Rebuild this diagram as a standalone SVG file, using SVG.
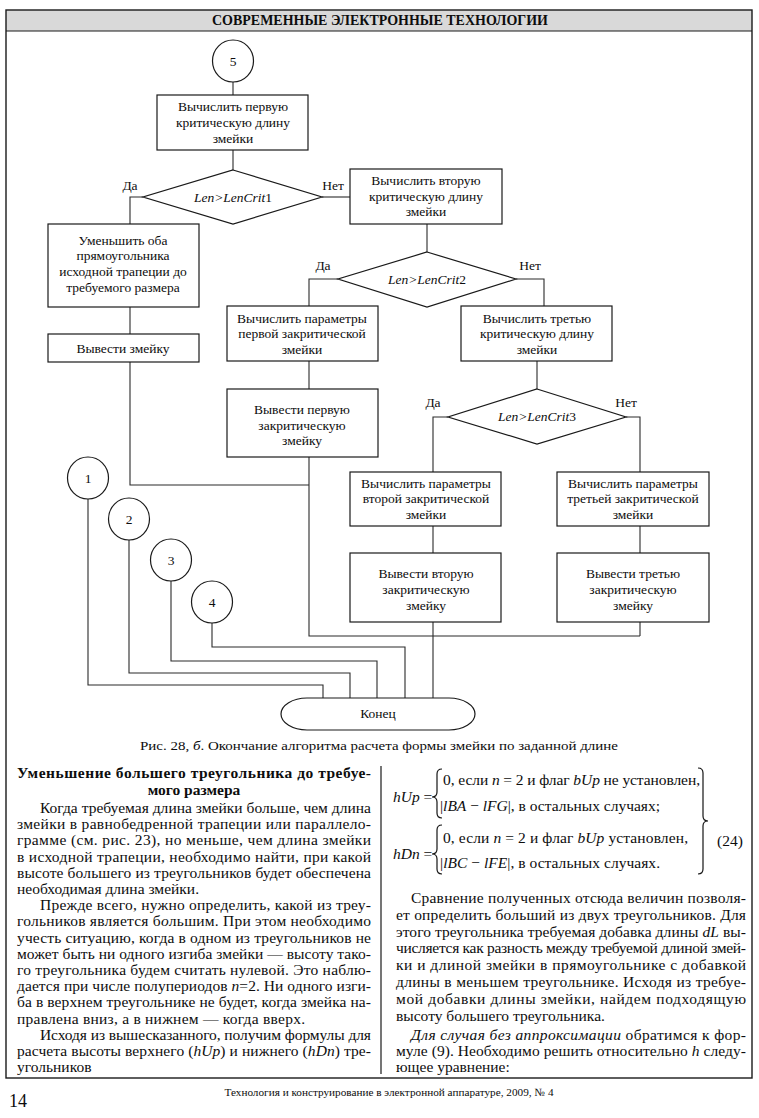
<svg xmlns="http://www.w3.org/2000/svg" width="759" height="1118" viewBox="0 0 759 1118" font-family="'Liberation Serif','Times New Roman','DejaVu Serif',serif">
<style>
text{font-family:"Liberation Serif","Times New Roman","DejaVu Serif",serif;fill:#0d0d0d}
.fc text{font-size:13.5px;text-anchor:middle}
.box{fill:#fff;stroke:#1a1a1a;stroke-width:1.2}
.ln{fill:none;stroke:#2a2a2a;stroke-width:1.1}
.body{font-size:15.5px}
.it{font-style:italic}
.b{font-weight:bold}
.br{fill:none;stroke:#141414;stroke-width:1.2}
</style>
<rect x="0" y="0" width="759" height="1118" fill="#fff"/>
<rect x="6" y="10" width="746" height="21" fill="#d9d9d9"/>
<rect x="6" y="10" width="746" height="1068" fill="none" stroke="#1a1a1a" stroke-width="1.4"/>
<line x1="6" y1="31" x2="752" y2="31" stroke="#1a1a1a" stroke-width="1.2"/>
<text x="380" y="25" font-size="14" font-weight="bold" text-anchor="middle" textLength="336" lengthAdjust="spacingAndGlyphs">СОВРЕМЕННЫЕ ЭЛЕКТРОННЫЕ ТЕХНОЛОГИИ</text>

<g id="connectors" class="ln">
<path d="M233,82V95"/>
<path d="M233,150V170"/>
<path d="M143,197H130V224"/>
<path d="M322,197H350"/>
<path d="M130,307V334"/>
<path d="M130,362V485H309"/>
<path d="M427,224V252"/>
<path d="M338,279H309V306"/>
<path d="M516,279H544V306"/>
<path d="M309,361V389"/>
<path d="M309,457V636H640"/>
<path d="M537,361V389"/>
<path d="M448,417H433V472"/>
<path d="M626,417H640V472"/>
<path d="M433,526V553"/>
<path d="M433,622V698"/>
<path d="M640,526V553"/>
<path d="M640,622V636"/>
<path d="M88,499V685H323V698"/>
<path d="M129,540V673H350V698"/>
<path d="M171,581V661H377V698"/>
<path d="M212,623V647H405V698"/>
</g>

<g class="fc">
<g id="c5"><ellipse class="box" cx="233" cy="61" rx="20.5" ry="21"/><text x="233" y="66">5</text></g>
<g id="n1"><rect class="box" x="157" y="95" width="151" height="55"/>
<text x="233" y="111">Вычислить первую</text><text x="233" y="127">критическую длину</text><text x="233" y="143">змейки</text></g>
<g id="d1"><polygon class="box" points="233,170 322,197 233,224 143,197"/>
<text x="233" y="202" class="it">Len&gt;LenCrit<tspan font-style="normal">1</tspan></text></g>
<g id="l1"><text x="130" y="190">Да</text><text x="333" y="190">Нет</text></g>
<g id="n2"><rect class="box" x="48" y="224" width="151" height="83"/>
<text x="123" y="245">Уменьшить оба</text><text x="123" y="260">прямоугольника</text><text x="123" y="276">исходной трапеции до</text><text x="123" y="292">требуемого размера</text></g>
<g id="n4"><rect class="box" x="48" y="334" width="151" height="28"/>
<text x="123" y="353">Вывести змейку</text></g>
<g id="n3"><rect class="box" x="350" y="169" width="152" height="55"/>
<text x="426" y="185">Вычислить вторую</text><text x="426" y="201">критическую длину</text><text x="426" y="216">змейки</text></g>
<g id="d2"><polygon class="box" points="427,252 516,279 427,307 338,279"/>
<text x="427" y="284" class="it">Len&gt;LenCrit<tspan font-style="normal">2</tspan></text></g>
<g id="l2"><text x="323" y="270">Да</text><text x="530" y="270">Нет</text></g>
<g id="n5"><rect class="box" x="227" y="306" width="151" height="55"/>
<text x="302" y="323">Вычислить параметры</text><text x="302" y="338">первой закритической</text><text x="302" y="354">змейки</text></g>
<g id="n6"><rect class="box" x="227" y="389" width="151" height="68"/>
<text x="302" y="414">Вывести первую</text><text x="302" y="430">закритическую</text><text x="302" y="445">змейку</text></g>
<g id="n7"><rect class="box" x="461" y="306" width="151" height="55"/>
<text x="537" y="323">Вычислить третью</text><text x="537" y="338">критическую длину</text><text x="537" y="354">змейки</text></g>
<g id="d3"><polygon class="box" points="537,389 626,417 537,444 448,417"/>
<text x="537" y="421" class="it">Len&gt;LenCrit<tspan font-style="normal">3</tspan></text></g>
<g id="l3"><text x="433" y="407">Да</text><text x="626" y="407">Нет</text></g>
<g id="n8"><rect class="box" x="350" y="472" width="151" height="54"/>
<text x="426" y="488">Вычислить параметры</text><text x="426" y="503">второй закритической</text><text x="426" y="519">змейки</text></g>
<g id="n9"><rect class="box" x="350" y="553" width="151" height="69"/>
<text x="426" y="578">Вывести вторую</text><text x="426" y="594">закритическую</text><text x="426" y="610">змейку</text></g>
<g id="n10"><rect class="box" x="557" y="472" width="152" height="54"/>
<text x="633" y="488">Вычислить параметры</text><text x="633" y="503">третьей закритической</text><text x="633" y="519">змейки</text></g>
<g id="n11"><rect class="box" x="557" y="553" width="152" height="69"/>
<text x="633" y="578">Вывести третью</text><text x="633" y="594">закритическую</text><text x="633" y="610">змейку</text></g>
<g id="c1"><ellipse class="box" cx="88" cy="478" rx="20.5" ry="21"/><text x="88" y="483">1</text></g>
<g id="c2"><ellipse class="box" cx="129" cy="519" rx="20.5" ry="21"/><text x="129" y="524">2</text></g>
<g id="c3"><ellipse class="box" cx="171" cy="560" rx="20.5" ry="21"/><text x="171" y="565">3</text></g>
<g id="c4"><ellipse class="box" cx="212" cy="602" rx="20.5" ry="21"/><text x="212" y="607">4</text></g>
<g id="end"><rect class="box" x="281" y="698" width="194" height="32" rx="26" ry="16"/>
<text x="378" y="718">Конец</text></g>
</g>

<text x="379" y="750" font-size="13.5" text-anchor="middle" textLength="478" lengthAdjust="spacingAndGlyphs">Рис. 28, <tspan class="it">б</tspan>. Окончание алгоритма расчета формы змейки по заданной длине</text>

<line x1="381" y1="766" x2="381" y2="1074" stroke="#1a1a1a" stroke-width="1.2"/>

<g class="body">
<text x="17" y="778" class="b" textLength="354" lengthAdjust="spacing">Уменьшение большего треугольника до требуе-</text>
<text x="194" y="795" class="b" text-anchor="middle">мого размера</text>
<text x="40" y="813" textLength="331" lengthAdjust="spacing">Когда требуемая длина змейки больше, чем длина</text>
<text x="17" y="829.2" textLength="354" lengthAdjust="spacing">змейки в равнобедренной трапеции или параллело-</text>
<text x="17" y="845.4" textLength="354" lengthAdjust="spacing">грамме (см. рис. 23), но меньше, чем длина змейки</text>
<text x="17" y="861.6" textLength="354" lengthAdjust="spacing">в исходной трапеции, необходимо найти, при какой</text>
<text x="17" y="877.8" textLength="354" lengthAdjust="spacing">высоте большего из треугольников будет обеспечена</text>
<text x="17" y="894">необходимая длина змейки.</text>
<text x="40" y="910.2" textLength="331" lengthAdjust="spacing">Прежде всего, нужно определить, какой из треу-</text>
<text x="17" y="926.4" textLength="354" lengthAdjust="spacing">гольников является б<tspan class="it">о</tspan>льшим. При этом необходимо</text>
<text x="17" y="942.6" textLength="354" lengthAdjust="spacing">учесть ситуацию, когда в одном из треугольников не</text>
<text x="17" y="958.8" textLength="354" lengthAdjust="spacing">может быть ни одного изгиба змейки — высоту тако-</text>
<text x="17" y="975" textLength="354" lengthAdjust="spacing">го треугольника будем считать нулевой. Это наблю-</text>
<text x="17" y="991.2" textLength="354" lengthAdjust="spacing">дается при числе полупериодов <tspan class="it">n</tspan>=2. Ни одного изги-</text>
<text x="17" y="1007.4" textLength="354" lengthAdjust="spacing">ба в верхнем треугольнике не будет, когда змейка на-</text>
<text x="17" y="1023.6" textLength="288" lengthAdjust="spacing">правлена вниз, а в нижнем — когда вверх.</text>
<text x="40" y="1039.8" textLength="331" lengthAdjust="spacing">Исходя из вышесказанного, получим формулы для</text>
<text x="17" y="1056" textLength="354" lengthAdjust="spacing">расчета высоты верхнего (<tspan class="it">hUp</tspan>) и нижнего (<tspan class="it">hDn</tspan>) тре-</text>
<text x="17" y="1072.2">угольников</text>

<text x="393" y="802"><tspan class="it">hUp</tspan> =</text>
<path class="br" d="M442,769 Q437,769 437,774 L437,792 Q437,797 432,797 Q437,797 437,802 L437,813 Q437,818 442,818"/>
<text x="443" y="785" textLength="257" lengthAdjust="spacing">0, если <tspan class="it">n</tspan> = 2 и флаг <tspan class="it">bUp</tspan> не установлен,</text>
<text x="440" y="811" textLength="220" lengthAdjust="spacing">|<tspan class="it">lBA</tspan> − <tspan class="it">lFG</tspan>|, в остальных случаях;</text>
<text x="393" y="859"><tspan class="it">hDn</tspan> =</text>
<path class="br" d="M442,825 Q437,825 437,830 L437,849 Q437,854 432,854 Q437,854 437,859 L437,869 Q437,874 442,874"/>
<text x="443" y="843" textLength="245" lengthAdjust="spacing">0, если <tspan class="it">n</tspan> = 2 и флаг <tspan class="it">bUp</tspan> установлен,</text>
<text x="440" y="868" textLength="220" lengthAdjust="spacing">|<tspan class="it">lBC</tspan> − <tspan class="it">lFE</tspan>|, в остальных случаях.</text>
<path class="br" d="M698,768 Q703,768 703,773 L703,816 Q703,821 708,821 Q703,821 703,826 L703,869 Q703,874 698,874"/>
<text x="717" y="846">(24)</text>

<text x="411" y="903" textLength="335" lengthAdjust="spacing">Сравнение полученных отсюда величин позволя-</text>
<text x="396" y="919.8" textLength="350" lengthAdjust="spacing">ет определить больший из двух треугольников. Для</text>
<text x="396" y="936.6" textLength="350" lengthAdjust="spacing">этого треугольника требуемая добавка длины <tspan class="it">dL</tspan> вы-</text>
<text x="396" y="953.4" textLength="350" lengthAdjust="spacing">числяется как разность между требуемой длиной змей-</text>
<text x="396" y="970.2" textLength="350" lengthAdjust="spacing">ки и длиной змейки в прямоугольнике с добавкой</text>
<text x="396" y="987" textLength="350" lengthAdjust="spacing">длины в меньшем треугольнике. Исходя из требуе-</text>
<text x="396" y="1003.8" textLength="350" lengthAdjust="spacing">мой добавки длины змейки, найдем подходящую</text>
<text x="396" y="1020.6">высоту большего треугольника.</text>
<text x="411" y="1039.8" textLength="335" lengthAdjust="spacing"><tspan class="it">Для случая без аппроксимации</tspan> обратимся к фор-</text>
<text x="396" y="1056" textLength="350" lengthAdjust="spacing">муле (9). Необходимо решить относительно <tspan class="it">h</tspan> следу-</text>
<text x="396" y="1072.2">ющее уравнение:</text>
</g>

<text x="389" y="1096" font-size="11" text-anchor="middle" textLength="329" lengthAdjust="spacingAndGlyphs">Технология и конструирование в электронной аппаратуре, 2009, № 4</text>
<text x="9" y="1107" font-size="18">14</text>
</svg>
